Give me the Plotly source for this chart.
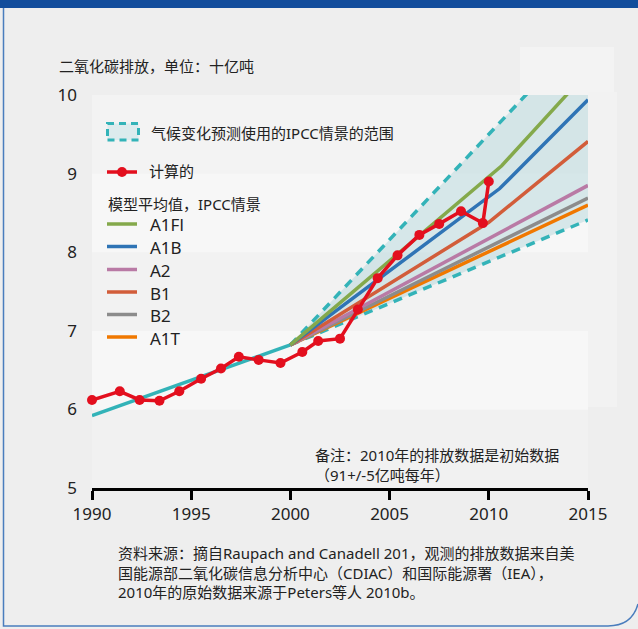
import plotly.graph_objects as go

# ---- data ----
obs_years = [1990, 1991.4, 1992.4, 1993.4, 1994.4, 1995.5, 1996.5, 1997.4, 1998.4, 1999.5,
             2000.6, 2001.4, 2002.5, 2003.4, 2004.4, 2005.4, 2006.5, 2007.5, 2008.6, 2009.7, 2010.0]
obs_values = [6.12, 6.23, 6.12, 6.11, 6.23, 6.39, 6.52, 6.67, 6.63, 6.59,
              6.73, 6.87, 6.90, 7.27, 7.67, 7.96, 8.22, 8.36, 8.52, 8.37, 8.90]

hist_years = [1990, 2000]
hist_values = [5.92, 6.82]

range_years = [2000, 2015]
range_low = [6.82, 8.41]
range_high = [6.82, 10.84]

scen_names = ["A1Fl", "A1B", "A2", "B1", "B2", "A1T"]
scen_years = {
    "A1Fl": [2000, 2010.65, 2015],
    "A1B": [2000, 2010.55, 2015],
    "A2": [2000, 2015],
    "B1": [2000, 2010, 2015],
    "B2": [2000, 2015],
    "A1T": [2000, 2015],
}
scen_values = {
    "A1Fl": [6.82, 9.10, 10.30],
    "A1B": [6.82, 8.81, 9.94],
    "A2": [6.82, 8.85],
    "B1": [6.82, 8.38, 9.41],
    "B2": [6.82, 8.69],
    "A1T": [6.82, 8.60],
}
scen_colors = {
    "A1Fl": "#84a94b", "A1B": "#2f74b5", "A2": "#b97aa5",
    "B1": "#d25d3a", "B2": "#8c8c8c", "A1T": "#f07800",
}

x_ticks = [1990, 1995, 2000, 2005, 2010, 2015]
y_ticks = [5, 6, 7, 8, 9, 10]

title_text = "二氧化碳排放，单位：十亿吨"
range_label = "气候变化预测使用的IPCC情景的范围"
obs_label = "计算的"
group_label = "模型平均值，IPCC情景"
note_text = "备注：2010年的排放数据是初始数据<br>（91+/-5亿吨每年）"
source_text = ("资料来源：摘自Raupach and Canadell 201，观测的排放数据来自美<br>"
               "国能源部二氧化碳信息分析中心（CDIAC）和国际能源署（IEA），<br>"
               "2010年的原始数据来源于Peters等人 2010b。")

TEAL = "#33b3b8"
RED = "#e30f1e"
FONT = "Noto Sans, Noto Sans CJK SC, sans-serif"
TXT = "#222222"

W, H = 638, 629
L, R, T, B = 92, 50, 95, 141
PW, PH = W - L - R, H - T - B


def px(x):
    return (x - L) / PW


def py(y):
    return (H - B - y) / PH


fig = go.Figure()

# range fill and dashed bounds
fig.add_trace(go.Scatter(x=range_years, y=range_low, mode="lines",
                         line=dict(color=TEAL, width=3.5, dash="9px,7px"),
                         showlegend=False, hoverinfo="skip"))
fig.add_trace(go.Scatter(x=range_years, y=range_high, mode="lines",
                         line=dict(color=TEAL, width=3.5, dash="9px,7px"),
                         fill="tonexty", fillcolor="rgba(170,210,215,0.42)",
                         showlegend=False, hoverinfo="skip"))

# historical trend
fig.add_trace(go.Scatter(x=hist_years, y=hist_values, mode="lines",
                         line=dict(color=TEAL, width=3.5), showlegend=False))

# scenarios (draw lower ones first)
for name in ["A1T", "B2", "A2", "B1", "A1B", "A1Fl"]:
    fig.add_trace(go.Scatter(x=scen_years[name], y=scen_values[name], mode="lines",
                             line=dict(color=scen_colors[name], width=3.5),
                             name=name, showlegend=False))

# observed
fig.add_trace(go.Scatter(x=obs_years, y=obs_values, mode="lines+markers",
                         line=dict(color=RED, width=3.5),
                         marker=dict(color=RED, size=10),
                         cliponaxis=False, showlegend=False))

shapes = []
# plot bands
band_cols = ["#f1f1f1", "#f7f7f7", "#f2f2f2", "#f7f7f7", "#f3f3f3"]
for i, c in enumerate(band_cols):
    shapes.append(dict(type="rect", xref="paper", yref="y", x0=0, x1=1,
                       y0=y_ticks[i], y1=y_ticks[i + 1], fillcolor=c,
                       line=dict(width=0), layer="below"))
# light artefact boxes
shapes.append(dict(type="rect", xref="paper", yref="paper", x0=px(520), x1=px(614),
                   y0=py(95), y1=py(47), fillcolor="#f3f3f3", line=dict(width=0), layer="below"))
shapes.append(dict(type="rect", xref="paper", yref="paper", x0=px(588), x1=px(617),
                   y0=py(407), y1=py(92), fillcolor="#f2f2f2", line=dict(width=0), layer="below"))
# frame
shapes.append(dict(type="rect", xref="paper", yref="paper", x0=px(-5), x1=px(645),
                   y0=py(8), y1=py(-5), fillcolor="#124d9c", line=dict(width=0)))
shapes.append(dict(type="path", xref="paper", yref="paper",
                   path=(f"M {px(3.5)},{py(8)} L {px(3.5)},{py(626)} L {px(608)},{py(626)} "
                         f"Q {px(632)},{py(626)} {px(638)},{py(604)}"),
                   line=dict(color="#4a7dbd", width=1.5)))

# legend
shapes.append(dict(type="rect", xref="paper", yref="paper", x0=px(107.5), x1=px(138.5),
                   y0=py(140), y1=py(123.5), fillcolor="#dcebed",
                   line=dict(color=TEAL, width=3, dash="7px,5px")))
shapes.append(dict(type="line", xref="paper", yref="paper", x0=px(107), x1=px(137),
                   y0=py(172), y1=py(172), line=dict(color=RED, width=3.5)))
shapes.append(dict(type="circle", xref="paper", yref="paper", x0=px(117), x1=px(127),
                   y0=py(177), y1=py(167), fillcolor=RED, line=dict(width=0)))

annotations = []
leg_y = [224, 246.5, 269.5, 292, 314.5, 337]
for name, yy in zip(scen_names, leg_y):
    shapes.append(dict(type="line", xref="paper", yref="paper", x0=px(107), x1=px(137),
                       y0=py(yy), y1=py(yy), line=dict(color=scen_colors[name], width=3.5)))
    annotations.append(dict(text=name, xref="paper", yref="paper", x=px(148), y=py(yy + 1),
                            xanchor="left", yanchor="middle", showarrow=False,
                            font=dict(size=17, color=TXT, family=FONT)))

annotations += [
    dict(text=range_label, xref="paper", yref="paper", x=px(149), y=py(133),
         xanchor="left", yanchor="middle", showarrow=False,
         font=dict(size=15, color=TXT, family=FONT)),
    dict(text=obs_label, xref="paper", yref="paper", x=px(147), y=py(171),
         xanchor="left", yanchor="middle", showarrow=False,
         font=dict(size=15, color=TXT, family=FONT)),
    dict(text=group_label, xref="paper", yref="paper", x=px(106), y=py(204),
         xanchor="left", yanchor="middle", showarrow=False,
         font=dict(size=15, color=TXT, family=FONT)),
    dict(text=title_text, xref="paper", yref="paper", x=px(57), y=py(66),
         xanchor="left", yanchor="middle", showarrow=False,
         font=dict(size=15, color=TXT, family=FONT)),
    dict(text=note_text, xref="paper", yref="paper", x=px(313), y=py(465),
         xanchor="left", yanchor="middle", align="left", showarrow=False,
         font=dict(size=15, color=TXT, family=FONT)),
    dict(text=source_text, xref="paper", yref="paper", x=px(116), y=py(572),
         xanchor="left", yanchor="middle", align="left", showarrow=False,
         font=dict(size=15, color=TXT, family=FONT)),
]

fig.update_layout(
    width=W, height=H,
    margin=dict(l=L, r=R, t=T, b=B, pad=0),
    paper_bgcolor="#eeeeee", plot_bgcolor="#f3f3f3",
    showlegend=False,
    shapes=shapes, annotations=annotations,
    font=dict(family=FONT, color=TXT),
)
fig.update_xaxes(range=[1990, 2015], tickvals=x_ticks, ticktext=[str(v) for v in x_ticks],
                 showgrid=False, zeroline=False, showline=True, linecolor="#000000", linewidth=2.5,
                 ticks="outside", ticklen=9, tickwidth=2.5, tickcolor="#000000",
                 tickfont=dict(size=17, color=TXT, family=FONT), fixedrange=True)
fig.update_yaxes(range=[5, 10], tickvals=y_ticks, ticktext=[str(v) for v in y_ticks],
                 showgrid=False, zeroline=False, showline=False, ticks="",
                 ticklabelstandoff=14,
                 tickfont=dict(size=17, color=TXT, family=FONT), fixedrange=True)

fig.write_html("out.html", config={"displayModeBar": False},
               post_script="document.body.style.margin='0';document.body.style.background='#eeeeee';")
